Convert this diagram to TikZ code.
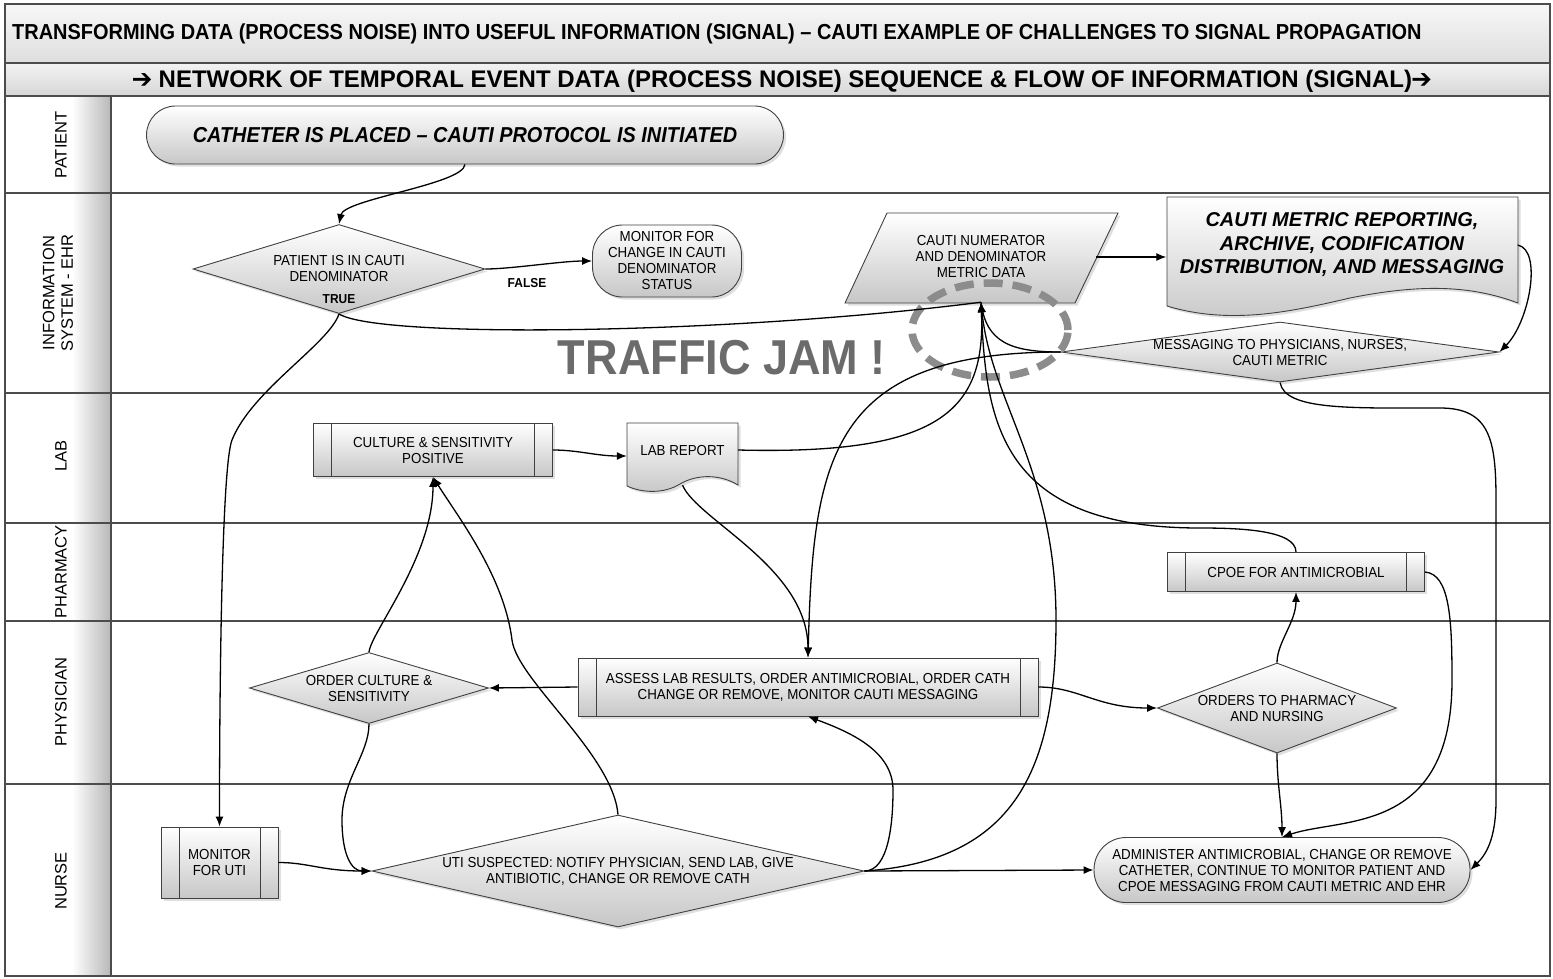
\documentclass[tikz,border=0pt]{standalone}
\usepackage{fontspec}
\usepackage{pifont}
\setmainfont{Liberation Sans}
\newfontfamily\narrowfont{Liberation Sans}[FakeStretch=0.92]
\usetikzlibrary{shapes.geometric,arrows.meta,shadows}

\colorlet{linec}{black!75}
\colorlet{boxgray}{black!22}

\begin{document}
\begin{tikzpicture}[x=1pt,y=-1pt,
  flow/.style={draw=black, line width=1.3pt, -{Latex[length=10pt,width=8pt]}},
  link/.style={draw=black, line width=1.3pt},
  boxfill/.style={draw=linec, line width=0.9pt, top color=white, bottom color=boxgray,
    drop shadow={opacity=0.25, shadow xshift=2.5pt, shadow yshift=-2.5pt}},
  txt/.style={font=\narrowfont\fontsize{14.5}{16}\selectfont, align=center, inner sep=0pt},
  procbox/.style={boxfill, txt, rectangle,
    path picture={\draw[linec, line width=0.8pt]
      ([xshift=18pt]path picture bounding box.north west) -- ([xshift=18pt]path picture bounding box.south west)
      ([xshift=-18pt]path picture bounding box.north east) -- ([xshift=-18pt]path picture bounding box.south east);}},
  decision/.style={boxfill, txt, diamond, inner xsep=-12pt, inner ysep=-5pt},
  terminal/.style={boxfill, txt, rectangle},
  lane/.style={font=\fontsize{16.5}{18.5}\selectfont, align=center, rotate=90},
  flag/.style={font=\narrowfont\bfseries\fontsize{13}{15}\selectfont, inner sep=0pt}
]
\useasboundingbox (0,0) rectangle (1553,978);
\fill[white] (0,0) rectangle (1553,978);

\fill[top color=black!3, bottom color=black!13] (5,4) rectangle (1550,63);
\fill[top color=black!5, bottom color=black!16] (5,63) rectangle (1550,96);
\fill[left color=white, right color=black!28] (72,96) rectangle (111,976);
\foreach \yy in {63,96,193,393,523,621,784}
  \draw[black!70, line width=1.5pt] (5,\yy) -- (1550,\yy);
\draw[black!70, line width=1.5pt] (111,96) -- (111,976);
\draw[black!70, line width=1.5pt] (5,4) rectangle (1550,976);

\node[anchor=west, inner sep=0pt, font=\narrowfont\bfseries\fontsize{21.7}{24}\selectfont] (heading) at (12,34)
  {TRANSFORMING DATA (PROCESS NOISE) INTO USEFUL INFORMATION (SIGNAL) – CAUTI EXAMPLE OF CHALLENGES TO SIGNAL PROPAGATION};
\node[inner sep=0pt, font=\bfseries\fontsize{24}{26}\selectfont] (subheading) at (782,81)
  {{\fontsize{22}{24}\selectfont\ding{212}} NETWORK OF TEMPORAL EVENT DATA (PROCESS NOISE) SEQUENCE \& FLOW OF INFORMATION (SIGNAL){\fontsize{22}{24}\selectfont\ding{212}}};

\node[lane] (patient) at (61,145) {PATIENT};
\node[lane] (ehr) at (58,293) {INFORMATION\\SYSTEM - EHR};
\node[lane] (lab) at (61,456) {LAB};
\node[lane] (pharmacy) at (61,572) {PHARMACY};
\node[lane] (physician) at (61,702) {PHYSICIAN};
\node[lane] (nurse) at (61,881) {NURSE};

\path[boxfill] (887,213) -- (1118,213) -- (1075,303) -- (845,303) -- cycle;
\path[boxfill] (1167,197) -- (1518,197) -- (1518,303) .. controls (1470,285) and (1420,284) .. (1350,298)
  .. controls (1290,312) and (1230,325) .. (1167,306) -- cycle;
\path[boxfill] (627,423) -- (738,423) -- (738,485) .. controls (720,474) and (697,474) .. (680,484)
  .. controls (664,494) and (642,493) .. (627,486) -- cycle;

\node[terminal, minimum width=637pt, minimum height=58pt, rounded corners=29pt,
  font=\narrowfont\bfseries\itshape\fontsize{21.6}{24}\selectfont] (start) at (465,135)
  {CATHETER IS PLACED – CAUTI PROTOCOL IS INITIATED};
\node[decision, minimum width=292pt, minimum height=89pt, aspect=3.3] (denom) at (339,269)
  {PATIENT IS IN CAUTI\\DENOMINATOR};
\node[flag] (truetag) at (339,299) {TRUE};
\node[flag] (falsetag) at (527,283) {FALSE};
\node[terminal, minimum width=149pt, minimum height=72pt, rounded corners=30pt] (watch) at (667,261)
  {MONITOR FOR\\CHANGE IN CAUTI\\DENOMINATOR\\STATUS};
\node[txt, minimum width=230pt, minimum height=90pt] (metric) at (981,257)
  {CAUTI NUMERATOR\\AND DENOMINATOR\\METRIC DATA};
\node[txt, minimum width=351pt, minimum height=96pt,
  font=\bfseries\itshape\fontsize{20}{23.5}\selectfont] (report) at (1342,245)
  {CAUTI METRIC REPORTING,\\ARCHIVE, CODIFICATION\\DISTRIBUTION, AND MESSAGING};
\node[decision, minimum width=438pt, minimum height=60pt, aspect=7.3] (msg) at (1280,352)
  {MESSAGING TO PHYSICIANS, NURSES,\\CAUTI METRIC};
\node[font=\narrowfont\bfseries\fontsize{49}{54}\selectfont, text=black!58, inner sep=0pt] (jam) at (722,358) {TRAFFIC JAM !};

\node[procbox, minimum width=239pt, minimum height=53pt] (culture) at (433,450)
  {CULTURE \& SENSITIVITY\\POSITIVE};
\node[txt, minimum width=111pt, minimum height=54pt] (labrep) at (682.5,450) {LAB REPORT};
\node[procbox, minimum width=257pt, minimum height=39pt] (cpoe) at (1296,572) {CPOE FOR ANTIMICROBIAL};
\node[decision, minimum width=239pt, minimum height=71pt, aspect=3.4] (ordercult) at (369,688)
  {ORDER CULTURE \&\\SENSITIVITY};
\node[procbox, minimum width=460pt, minimum height=58pt] (assess) at (808,687)
  {ASSESS LAB RESULTS, ORDER ANTIMICROBIAL, ORDER CATH\\CHANGE OR REMOVE, MONITOR CAUTI MESSAGING};
\node[decision, minimum width=239pt, minimum height=90pt, aspect=2.7] (orders) at (1277,708)
  {ORDERS TO PHARMACY\\AND NURSING};
\node[procbox, minimum width=117pt, minimum height=71pt] (utimon) at (219.5,862.5) {MONITOR\\FOR UTI};
\node[decision, minimum width=492pt, minimum height=112pt, aspect=4.4] (suspect) at (618,871)
  {UTI SUSPECTED: NOTIFY PHYSICIAN, SEND LAB, GIVE\\ANTIBIOTIC, CHANGE OR REMOVE CATH};
\node[terminal, minimum width=376pt, minimum height=65pt, rounded corners=32pt] (admin) at (1282,870)
  {ADMINISTER ANTIMICROBIAL, CHANGE OR REMOVE\\CATHETER, CONTINUE TO MONITOR PATIENT AND\\CPOE MESSAGING FROM CAUTI METRIC AND EHR};

\draw[black!45, line width=7.5pt, dash pattern=on 19pt off 10pt] (990,330) ellipse [x radius=78pt, y radius=47pt];

\draw[link] (denom.south) .. controls +(40,25) and +(-250,32) .. (metric.south);
\draw[flow] (labrep.east) .. controls +(200,5) and +(5,110) .. (metric.south);
\draw[link] (msg.west) .. controls +(-50,0) and +(5,40) .. (metric.south);
\draw[flow] (suspect.east) .. controls +(150,-10) and +(0,150) .. (1056,620) .. controls +(0,-150) and +(10,100) .. (metric.south);
\draw[flow] (cpoe.north) .. controls +(0,-22) and +(40,0) .. (1200,528) .. controls +(-200,0) and +(5,120) .. (metric.south);

\draw[flow] (start.south) .. controls +(-2,20) and +(5,-25) .. (denom.north);
\draw[flow] (denom.east) .. controls +(25,0) and +(-30,0) .. (watch.west);
\draw[flow] (denom.south) .. controls +(-10,30) and +(20,-50) .. (232,440) .. controls +(-10,25) and +(0,-150) .. (utimon.north);
\draw[flow] (metric.east) -- (metric.east -| report.west);
\draw[flow] (report.east) .. controls +(25,5) and +(30,-30) .. (msg.east);
\draw[flow] (msg.south) .. controls +(5,28) and +(-90,0) .. (1440,408) .. controls +(50,0) and +(0,-60) .. (1496,500)
  -- (1496,800) .. controls +(0,40) and +(15,-15) .. (admin.east);
\draw[flow] (msg.west) .. controls +(-230,0) and +(5,-200) .. (assess.north);
\draw[flow] ([yshift=-8pt]labrep.south) .. controls +(15,35) and +(0,-90) .. (assess.north);
\draw[flow] (culture.east) .. controls +(25,0) and +(-30,0) .. ([yshift=-6pt]labrep.west);
\draw[flow] (assess.west) -- (ordercult.east);
\draw[flow] (assess.east) .. controls +(40,0) and +(-60,0) .. (orders.west);
\draw[flow] (orders.north) .. controls +(0,-20) and +(0,30) .. (cpoe.south);
\draw[flow] (orders.south) .. controls +(0,30) and +(0,-30) .. (admin.north);
\draw[flow] (cpoe.east) .. controls +(25,2) and +(0,-60) .. (1452,680) .. controls +(0,155) and +(60,-20) .. (admin.north);
\draw[flow] (ordercult.north) .. controls +(2,-20) and +(0,80) .. (culture.south);
\draw[flow] (suspect.north) .. controls +(-5,-60) and +(5,40) .. (512,640) .. controls +(-8,-64) and +(25,40) .. (culture.south);
\draw[flow] (ordercult.south) .. controls +(0,30) and +(0,-40) .. (342,820) .. controls +(0,35) and +(-20,0) .. (suspect.west);
\draw[flow] (utimon.east) .. controls +(30,0) and +(-50,0) .. (suspect.west);
\draw[flow] (suspect.east) -- (admin.west);
\draw[flow] (suspect.east) .. controls +(25,0) and +(0,30) .. (893,790) .. controls +(0,-40) and +(40,15) .. (assess.south);
\end{tikzpicture}
\end{document}
